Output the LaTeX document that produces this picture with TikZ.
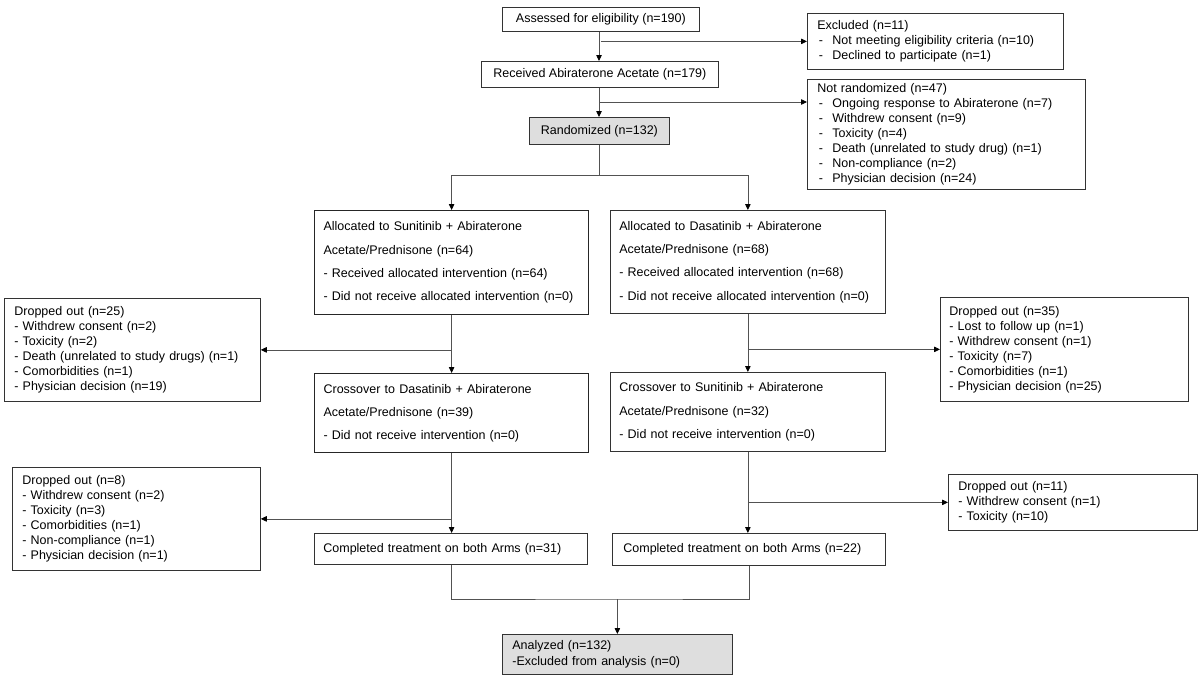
\documentclass[tikz,border=0pt]{standalone}
\usepackage{fontspec}
\setmainfont{Liberation Sans}
\usetikzlibrary{arrows.meta,calc}
\newcommand\dsh{\makebox[15pt][l]{\hspace{1.5pt}-}}
\begin{document}
\begin{tikzpicture}[x=1pt,y=-1pt,
  box/.style={draw=black!80,line width=0.75pt,rectangle,anchor=north west,inner xsep=0pt,inner ysep=0pt,
    font=\fontsize{12.5}{15}\selectfont},
  cbox/.style={box,align=center},
  lbox/.style={box,align=left},
  wide/.style={font=\fontsize{12.5}{23.3}\selectfont},
  heavy/.style={draw=black!85,line width=1.2pt},
  shade/.style={fill=black!13},
  conn/.style={draw=black!68,line width=0.75pt},
  arr/.style={conn,-{Triangle[length=6pt,width=5.5pt,black]}}]
\useasboundingbox[fill=white] (0,0) rectangle (1200,680);

% top column
\node[cbox,minimum width=197pt,minimum height=24pt] (n1) at (502,7) {Assessed for eligibility (n=190)};
\node[cbox,minimum width=237pt,minimum height=26pt] (n2) at (481,61) {Received Abiraterone Acetate (n=179)};
\node[cbox,shade,minimum width=140pt,minimum height=27pt] (n3) at (529,117) {Randomized (n=132)};

\node[lbox,text width=236pt,minimum height=56pt,inner xsep=10pt] (excl) at (807,13)
  {Excluded (n=11)\\\dsh Not meeting eligibility criteria (n=10)\\\dsh Declined to participate (n=1)};
\node[lbox,text width=258pt,minimum height=110pt,inner xsep=10pt] (notr) at (807,79)
  {Not randomized (n=47)\\\dsh Ongoing response to Abiraterone (n=7)\\\dsh Withdrew consent (n=9)\\\dsh Toxicity (n=4)\\\dsh Death (unrelated to study drug) (n=1)\\\dsh Non-compliance (n=2)\\\dsh Physician decision (n=24)};

% allocation
\node[lbox,wide,heavy,text width=256pt,minimum height=104pt,inner xsep=9pt] (allocS) at (314,210)
  {Allocated to Sunitinib + Abiraterone\\Acetate/Prednisone (n=64)\\- Received allocated intervention (n=64)\\- Did not receive allocated intervention (n=0)};
\node[lbox,wide,text width=257pt,minimum height=103pt,inner xsep=9pt] (allocD) at (610,210)
  {Allocated to Dasatinib + Abiraterone\\Acetate/Prednisone (n=68)\\- Received allocated intervention (n=68)\\- Did not receive allocated intervention (n=0)};

\node[lbox,text width=236pt,minimum height=103pt,inner xsep=10pt] (d25) at (4,298)
  {Dropped out (n=25)\\- Withdrew consent (n=2)\\- Toxicity (n=2)\\- Death (unrelated to study drugs) (n=1)\\- Comorbidities (n=1)\\- Physician decision (n=19)};
\node[lbox,text width=230pt,minimum height=104pt,inner xsep=9pt] (d35) at (940,297)
  {Dropped out (n=35)\\- Lost to follow up (n=1)\\- Withdrew consent (n=1)\\- Toxicity (n=7)\\- Comorbidities (n=1)\\- Physician decision (n=25)};

% crossover
\node[lbox,wide,heavy,text width=256pt,minimum height=79pt,inner xsep=9pt] (crossD) at (314,373)
  {Crossover to Dasatinib + Abiraterone\\Acetate/Prednisone (n=39)\\- Did not receive intervention (n=0)};
\node[lbox,wide,text width=257pt,minimum height=79pt,inner xsep=9pt] (crossS) at (610,372)
  {Crossover to Sunitinib + Abiraterone\\Acetate/Prednisone (n=32)\\- Did not receive intervention (n=0)};

\node[lbox,text width=228pt,minimum height=103pt,inner xsep=10pt] (d8) at (12,467)
  {Dropped out (n=8)\\- Withdrew consent (n=2)\\- Toxicity (n=3)\\- Comorbidities (n=1)\\- Non-compliance (n=1)\\- Physician decision (n=1)};
\node[lbox,text width=229pt,minimum height=56pt,inner xsep=10pt] (d11) at (948,474)
  {Dropped out (n=11)\\- Withdrew consent (n=1)\\- Toxicity (n=10)};

% completed
\node[lbox,text width=255pt,minimum height=31pt,inner xsep=9pt] (compS) at (314,533)
  {Completed treatment on both Arms (n=31)};
\node[lbox,text width=251pt,minimum height=32pt,inner xsep=11pt] (compD) at (612,533)
  {Completed treatment on both Arms (n=22)};

\node[lbox,shade,text width=210pt,minimum height=40pt,inner xsep=10pt,font=\fontsize{12.5}{16}\selectfont] (anl) at (502,634)
  {Analyzed (n=132)\\-Excluded from analysis (n=0)};

% connectors: top
\draw[arr] (n1.south -| 599,0) -- (n2.north -| 599,0);
\draw[arr] (n1.south |- excl.west) -- (excl.west);
\draw[arr] (n2.south -| 599,0) -- (n3.north -| 599,0);
\coordinate (b2) at (599,102);
\draw[arr] (b2) -- (b2 -| notr.west);

% randomization split
\coordinate (split) at (599,175);
\draw[conn] (n3.south -| 599,0) -- (split);
\draw[arr] (split) -| (allocS.north);
\draw[arr] (split) -| (allocD.north);

% arm columns
\draw[arr] (allocS.south) -- (crossD.north);
\draw[arr] (allocS.south |- d25.east) -- (d25.east);
\draw[arr] (allocD.south) -- (crossS.north);
\draw[arr] (allocD.south |- d35.west) -- (d35.west);

\draw[arr] (crossD.south) -- (crossD.south |- compS.north);
\draw[arr] (crossD.south |- d8.east) -- (d8.east);
\draw[arr] (crossS.south) -- (crossS.south |- compD.north);
\draw[arr] (crossS.south |- d11.west) -- (d11.west);

% join
\coordinate (jn) at (anl.north |- 0,599);
\draw[conn] (compS.south) |- (jn) -| (compD.south);
\draw[arr] (jn) -- (anl.north);
\end{tikzpicture}
\end{document}
